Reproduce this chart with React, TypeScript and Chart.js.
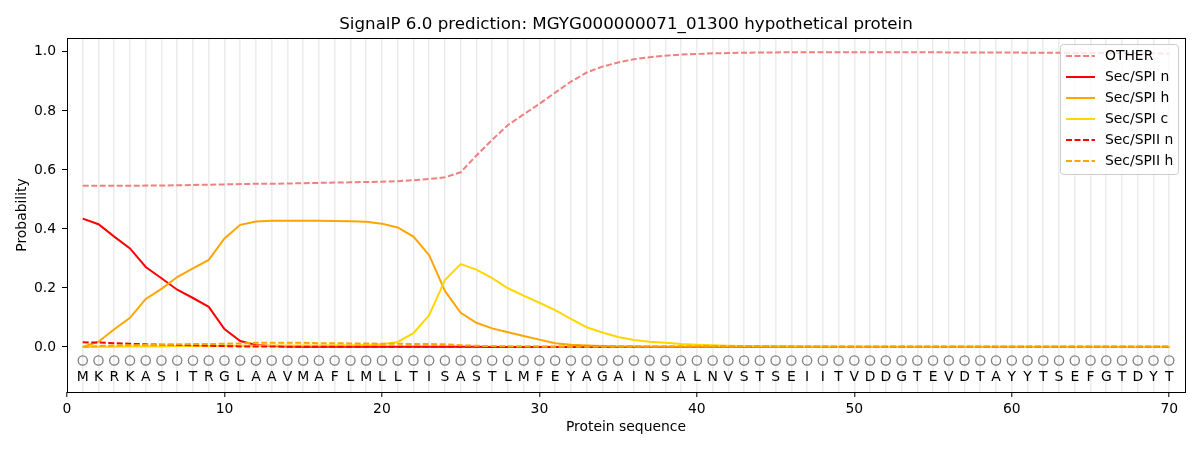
import { useRef, useEffect } from "react";
import Chart from "chart.js/auto";

const sequence = "MKRKASITRGLAAVMAFLMLLTISASTLMFEYAGAINSALNVSTSEIITVDDGTEVDTAYYTSEFGTDYT".split("");
const positions = sequence.map((_, i) => i + 1);

const other = [
  0.546, 0.546, 0.546, 0.546, 0.547, 0.547, 0.548, 0.549, 0.550, 0.551,
  0.552, 0.553, 0.553, 0.554, 0.555, 0.556, 0.557, 0.558, 0.559, 0.560,
  0.562, 0.565, 0.569, 0.575, 0.592, 0.649, 0.702, 0.752, 0.788, 0.824,
  0.862, 0.899, 0.930, 0.950, 0.964, 0.975, 0.982, 0.987, 0.991, 0.993,
  0.995, 0.996, 0.997, 0.998, 0.998, 0.999, 0.999, 0.999, 0.999, 0.999,
  0.999, 0.999, 0.999, 0.999, 0.999, 0.998, 0.998, 0.998, 0.998, 0.998,
  0.997, 0.997, 0.997, 0.996, 0.996, 0.996, 0.995, 0.995, 0.995, 0.994,
];
const spiN = [
  0.435, 0.416, 0.374, 0.334, 0.271, 0.233, 0.194, 0.166, 0.136, 0.061,
  0.020, 0.007, 0.003, 0.002, 0.001, 0.001, 0.001, 0.001, 0.001, 0.001,
  0.001, 0.001, 0.001, 0.001, 0.001, 0.001, 0, 0, 0, 0,
  0, 0, 0, 0, 0, 0, 0, 0, 0, 0,
  0, 0, 0, 0, 0, 0, 0, 0, 0, 0,
  0, 0, 0, 0, 0, 0, 0, 0, 0, 0,
  0, 0, 0, 0, 0, 0, 0, 0, 0, 0,
];
const spiH = [
  0.0, 0.018, 0.060, 0.099, 0.163, 0.197, 0.237, 0.266, 0.295, 0.368,
  0.414, 0.425, 0.428, 0.428, 0.428, 0.428, 0.427, 0.426, 0.424, 0.418,
  0.405, 0.374, 0.311, 0.190, 0.116, 0.082, 0.063, 0.050, 0.037, 0.025,
  0.013, 0.008, 0.005, 0.003, 0.002, 0.002, 0.001, 0.001, 0.001, 0.001,
  0.001, 0.001, 0.001, 0.001, 0.001, 0.001, 0, 0, 0, 0,
  0, 0, 0, 0, 0, 0, 0, 0, 0, 0,
  0, 0, 0, 0, 0, 0, 0, 0, 0, 0,
];
const spiC = [
  0.0, 0.001, 0.001, 0.002, 0.002, 0.002, 0.003, 0.003, 0.003, 0.004,
  0.004, 0.004, 0.005, 0.005, 0.005, 0.005, 0.006, 0.006, 0.007, 0.009,
  0.017, 0.047, 0.108, 0.227, 0.281, 0.262, 0.233, 0.199, 0.174, 0.150,
  0.125, 0.095, 0.067, 0.049, 0.034, 0.024, 0.018, 0.014, 0.010, 0.008,
  0.006, 0.004, 0.003, 0.003, 0.002, 0.002, 0.002, 0.002, 0.001, 0.001,
  0.001, 0.001, 0.001, 0.001, 0.001, 0.001, 0.001, 0.001, 0.001, 0.001,
  0.001, 0.001, 0.001, 0.001, 0.001, 0.001, 0.001, 0.001, 0.001, 0.001,
];
const spiiN = [
  0.016, 0.015, 0.013, 0.011, 0.009, 0.008, 0.007, 0.006, 0.004, 0.003,
  0.002, 0.002, 0.002, 0.001, 0.001, 0.001, 0.001, 0.001, 0.001, 0.001,
  0.001, 0.001, 0.001, 0.001, 0.001, 0.001, 0.001, 0.001, 0.001, 0.001,
  0.001, 0.001, 0.001, 0.001, 0.001, 0.001, 0.001, 0.001, 0.001, 0.001,
  0.001, 0.001, 0.001, 0.001, 0.001, 0.001, 0.001, 0.001, 0.001, 0.001,
  0.001, 0.001, 0.001, 0.001, 0.001, 0.001, 0.001, 0.001, 0.001, 0.001,
  0.001, 0.001, 0.001, 0.001, 0.001, 0.001, 0.001, 0.001, 0.001, 0.001,
];
const spiiH = [
  0.0, 0.003, 0.005, 0.006, 0.007, 0.008, 0.009, 0.010, 0.010, 0.011,
  0.012, 0.014, 0.014, 0.014, 0.014, 0.013, 0.013, 0.012, 0.012, 0.011,
  0.011, 0.010, 0.010, 0.009, 0.006, 0.004, 0.003, 0.002, 0.002, 0.001,
  0.001, 0.001, 0.001, 0.001, 0.001, 0.001, 0.001, 0.001, 0.001, 0.001,
  0.001, 0.001, 0.001, 0.001, 0.001, 0.001, 0.001, 0.001, 0.001, 0.001,
  0.001, 0.001, 0.001, 0.001, 0.001, 0.001, 0.001, 0.001, 0.001, 0.001,
  0.001, 0.001, 0.001, 0.001, 0.001, 0.001, 0.001, 0.001, 0.001, 0.001,
];

const seriesLabels = ["OTHER", "Sec/SPI n", "Sec/SPI h", "Sec/SPI c", "Sec/SPII n", "Sec/SPII h"];
const seriesValues = [other, spiN, spiH, spiC, spiiN, spiiH];
const seriesColors = ["#f08080", "#ff0000", "#ffa500", "#ffd700", "#ff0000", "#ffa500"];
const seriesDashed = [true, false, false, false, true, true];

const xTicks = Array.from({ length: 71 }, (_, i) => i);
const yTicks = [0, 0.2, 0.4, 0.6, 0.8, 1.0];
const circleY = -0.046;
const letterY = -0.102;

const FONT = "DejaVu Sans";
const DASH = [6, 2.5];

const decor = {
  id: "decor",
  afterDatasetsDraw(chart: any) {
    const { ctx, chartArea, scales } = chart;
    ctx.save();
    ctx.fillStyle = "#000";
    ctx.font = `13.9px "${FONT}"`;
    ctx.textAlign = "center";
    ctx.textBaseline = "middle";
    sequence.forEach((aa, i) => {
      ctx.fillText(aa, scales.x.getPixelForValue(positions[i]), scales.y.getPixelForValue(letterY));
    });
    ctx.strokeStyle = "#000";
    ctx.lineWidth = 1;
    ctx.strokeRect(
      Math.round(chartArea.left) + 0.5,
      Math.round(chartArea.top) + 0.5,
      Math.round(chartArea.right - chartArea.left),
      Math.round(chartArea.bottom - chartArea.top)
    );
    ctx.restore();
  },
  afterDraw(chart: any) {
    const { ctx, chartArea } = chart;
    ctx.save();
    // title
    ctx.fillStyle = "#000";
    ctx.font = `16.7px "${FONT}"`;
    ctx.textAlign = "center";
    ctx.textBaseline = "alphabetic";
    ctx.fillText(
      "SignalP 6.0 prediction: MGYG000000071_01300 hypothetical protein",
      (chartArea.left + chartArea.right) / 2,
      29
    );
    // legend
    const bx = 1060.5, by = 44.5, bw = 118, bh = 130;
    ctx.beginPath();
    ctx.roundRect(bx, by, bw, bh, 3);
    ctx.fillStyle = "rgba(255,255,255,0.8)";
    ctx.fill();
    ctx.strokeStyle = "#cccccc";
    ctx.lineWidth = 1;
    ctx.stroke();
    ctx.font = `13.9px "${FONT}"`;
    ctx.textAlign = "left";
    ctx.textBaseline = "middle";
    seriesLabels.forEach((label, i) => {
      const y = 56 + i * 21;
      ctx.beginPath();
      ctx.setLineDash(seriesDashed[i] ? DASH : []);
      ctx.strokeStyle = seriesColors[i];
      ctx.lineWidth = 2;
      ctx.moveTo(1066, y);
      ctx.lineTo(1095, y);
      ctx.stroke();
      ctx.setLineDash([]);
      ctx.fillStyle = "#000";
      ctx.fillText(label, 1105, y);
    });
    ctx.restore();
  },
};

const SignalPChart = () => {
  const chartRef = useRef<HTMLCanvasElement | null>(null);
  const chartInstance = useRef<Chart | null>(null);

  useEffect(() => {
    document.body.style.margin = "0";
    if (chartInstance.current) {
      chartInstance.current.destroy();
    }
    const myChartRef = chartRef.current?.getContext("2d");
    if (!myChartRef) return;

    Chart.defaults.font.family = FONT;
    Chart.defaults.font.size = 13.9;
    Chart.defaults.color = "#000";

    const lineSets = seriesLabels.map((label, i) => ({
      type: "line" as const,
      label,
      data: positions.map((p, j) => ({ x: p, y: seriesValues[i][j] })),
      borderColor: seriesColors[i],
      backgroundColor: seriesColors[i],
      borderWidth: 2,
      borderDash: seriesDashed[i] ? DASH : [],
      pointRadius: 0,
      fill: false,
      tension: 0,
      order: 6 - i,
    }));

    const circles = {
      type: "scatter" as const,
      label: "residues",
      data: positions.map((p) => ({ x: p, y: circleY })),
      borderColor: "#7f7f7f",
      backgroundColor: "rgba(0,0,0,0)",
      borderWidth: 1.3,
      pointRadius: 4.6,
      order: 7,
    };

    chartInstance.current = new Chart(myChartRef, {
      type: "line",
      data: { datasets: [...lineSets, circles] as any },
      options: {
        animation: false,
        responsive: false,
        devicePixelRatio: 1,
        layout: { padding: { left: 0, right: 15, top: 38, bottom: 0 } },
        plugins: {
          legend: { display: false },
          title: { display: false },
          tooltip: { enabled: false },
        },
        scales: {
          x: {
            type: "linear",
            min: 0,
            max: 71,
            afterBuildTicks: (scale: any) => {
              scale.ticks = xTicks.map((v) => ({ value: v }));
            },
            afterFit: (scale: any) => {
              scale.height = 58;
            },
            ticks: {
              autoSkip: false,
              maxRotation: 0,
              padding: 4,
              callback: (v: any) => (Number(v) % 10 === 0 ? String(v) : ""),
            },
            grid: {
              color: (c: any) => (c.tick && c.tick.value >= 1 ? "#ececec" : "rgba(0,0,0,0)"),
              lineWidth: 1.6,
              tickColor: (c: any) => (c.tick && c.tick.value % 10 === 0 ? "#000" : "rgba(0,0,0,0)"),
              tickWidth: 1,
              tickLength: 5,
            },
            border: { display: false },
            title: {
              display: true,
              text: "Protein sequence",
              padding: { top: 0, bottom: 14.7 },
            },
          },
          y: {
            type: "linear",
            min: -0.1525,
            max: 1.047,
            afterBuildTicks: (scale: any) => {
              scale.ticks = yTicks.map((v) => ({ value: v }));
            },
            afterFit: (scale: any) => {
              scale.width = 67;
            },
            ticks: {
              padding: 6,
              callback: (v: any) => Number(v).toFixed(1),
            },
            grid: {
              drawOnChartArea: false,
              tickColor: "#000",
              tickLength: 5,
              tickWidth: 1,
            },
            border: { display: false },
            title: {
              display: true,
              text: "Probability",
              padding: { top: 13.7, bottom: 0 },
            },
          },
        },
      },
      plugins: [decor],
    });

    return () => {
      if (chartInstance.current) {
        chartInstance.current.destroy();
        chartInstance.current = null;
      }
    };
  }, []);

  return (
    <div style={{ position: "absolute", left: 0, top: 0, width: 1200, height: 450, background: "#fff" }}>
      <canvas ref={chartRef} width={1200} height={450}></canvas>
    </div>
  );
};

export default function App() {
  return <SignalPChart />;
}
